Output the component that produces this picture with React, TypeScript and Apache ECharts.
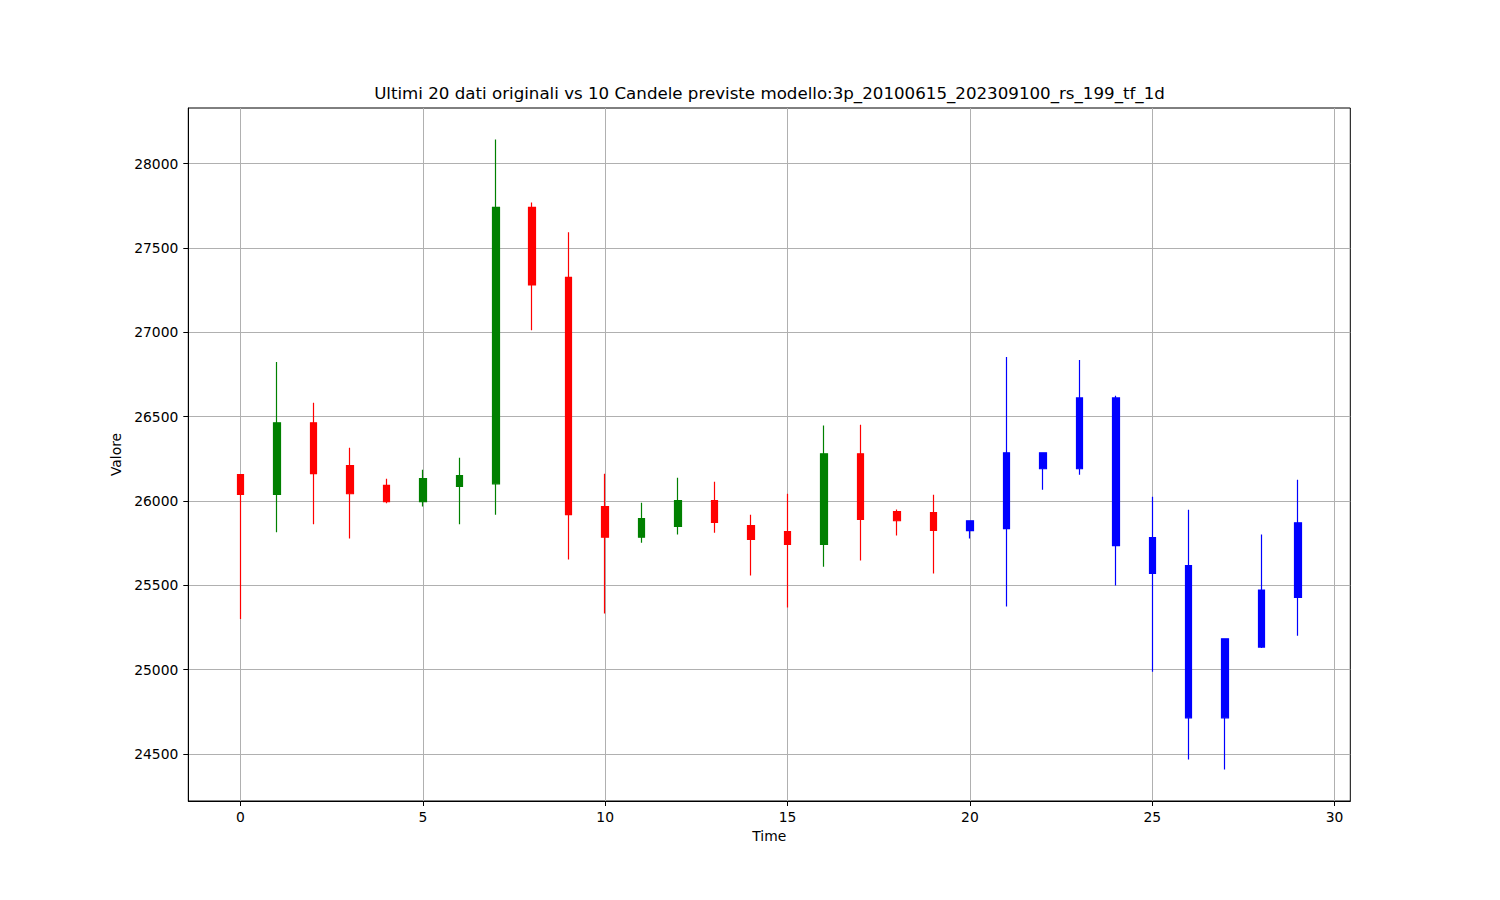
import React, { useEffect, useRef } from "react";
import * as echarts from "echarts";

// ---- Data ----
const titleText =
  "Ultimi 20 dati originali vs 10 Candele previste modello:3p_20100615_202309100_rs_199_tf_1d";

// Original candles (time 0..19)
const origTimes = [0, 1, 2, 3, 4, 5, 6, 7, 8, 9, 10, 11, 12, 13, 14, 15, 16, 17, 18, 19];
const origOpen = [26156, 26039, 26463, 26209, 26092, 25996, 26086, 26102, 27740, 27325, 25966, 25785, 25850, 26002, 25854, 25818, 25743, 26280, 25937, 25931];
const origClose = [26039, 26463, 26162, 26043, 25996, 26132, 26150, 27740, 27280, 25919, 25785, 25895, 26002, 25873, 25773, 25743, 26280, 25891, 25883, 25826];
const origLow = [25300, 25814, 25862, 25777, 25986, 25968, 25862, 25919, 27012, 25653, 25333, 25753, 25801, 25812, 25558, 25369, 25611, 25647, 25795, 25570];
const origHigh = [26156, 26824, 26582, 26315, 26132, 26185, 26256, 28142, 27769, 27592, 26162, 25990, 26138, 26114, 25919, 26043, 26447, 26452, 25949, 26037];

// Predicted candles (time 20..29)
const predTimes = [20, 21, 22, 23, 24, 25, 26, 27, 28, 29];
const predOpen = [25824, 25836, 26286, 26191, 26611, 25783, 25617, 25183, 25134, 25429];
const predClose = [25883, 26286, 26191, 26611, 25736, 25571, 24715, 24715, 25472, 25871];
const predLow = [25777, 25375, 26067, 26156, 25499, 24988, 24468, 24409, 25128, 25201];
const predHigh = [25883, 26854, 26286, 26836, 26623, 26025, 25948, 25183, 25801, 26126];

// Axis ticks
const xTicks = [0, 5, 10, 15, 20, 25, 30];
const yTicks = [24500, 25000, 25500, 26000, 26500, 27000, 27500, 28000];
const xRange = [-1.43, 30.43];
const yRange = [24222, 28329];

const FONT = "DejaVu Sans";

function buildRows(t: number[], o: number[], c: number[], l: number[], h: number[]) {
  return t.map((x, i) => [x, o[i], c[i], l[i], h[i]]);
}

export default function App() {
  const ref = useRef<HTMLDivElement>(null);

  useEffect(() => {
    if (!ref.current) return;
    const chart = echarts.init(ref.current, null, { renderer: "svg" });
    const labelStyle = { color: "#000", fontFamily: FONT, fontSize: 13.89 };
    chart.setOption({
      animation: false,
      backgroundColor: "#fff",
      title: {
        text: titleText,
        left: 764.5,
        textAlign: "center",
        top: 80,
        textStyle: { color: "#000", fontFamily: FONT, fontSize: 16.67, fontWeight: "normal" },
      },
      grid: {
        left: 188.3,
        right: 149.7,
        top: 108,
        bottom: 99,
        show: true,
        borderColor: "#000",
        borderWidth: 1,
        backgroundColor: "transparent",
      },
      xAxis: {
        type: "value",
        min: xRange[0],
        max: xRange[1],
        name: "Time",
        nameLocation: "middle",
        nameGap: 28,
        nameTextStyle: labelStyle,
        axisLine: { show: true, onZero: false, lineStyle: { color: "#000", width: 1 } },
        axisTick: { show: true, length: 5, lineStyle: { color: "#000", width: 1 }, customValues: xTicks },
        axisLabel: { ...labelStyle, margin: 9, customValues: xTicks, formatter: (v: number) => String(v) },
        splitLine: { show: true, lineStyle: { color: "#b0b0b0", width: 1 } },
      },
      yAxis: {
        type: "value",
        min: yRange[0],
        max: yRange[1],
        name: "Valore",
        nameLocation: "middle",
        nameGap: 59,
        nameTextStyle: labelStyle,
        axisLine: { show: true, onZero: false, lineStyle: { color: "#000", width: 1 } },
        axisTick: { show: true, length: 5, lineStyle: { color: "#000", width: 1 }, customValues: yTicks },
        axisLabel: { ...labelStyle, margin: 10, customValues: yTicks, formatter: (v: number) => String(v) },
        splitLine: { show: true, lineStyle: { color: "#b0b0b0", width: 1 } },
      },
      series: [
        {
          name: "Originali",
          type: "candlestick",
          barWidth: 7,
          z: 5,
          data: buildRows(origTimes, origOpen, origClose, origLow, origHigh),
          itemStyle: {
            color: "#008000",
            color0: "#ff0000",
            borderColor: "#008000",
            borderColor0: "#ff0000",
            borderWidth: 1.2,
          },
        },
        {
          name: "Previsti",
          type: "candlestick",
          barWidth: 7,
          z: 5,
          data: buildRows(predTimes, predOpen, predClose, predLow, predHigh),
          itemStyle: {
            color: "#0000ff",
            color0: "#0000ff",
            borderColor: "#0000ff",
            borderColor0: "#0000ff",
            borderWidth: 1.2,
          },
        },
      ],
    });
    return () => chart.dispose();
  }, []);

  return (
    <div
      ref={ref}
      style={{ position: "absolute", left: 0, top: 0, width: 1500, height: 900, background: "#fff" }}
    />
  );
}
